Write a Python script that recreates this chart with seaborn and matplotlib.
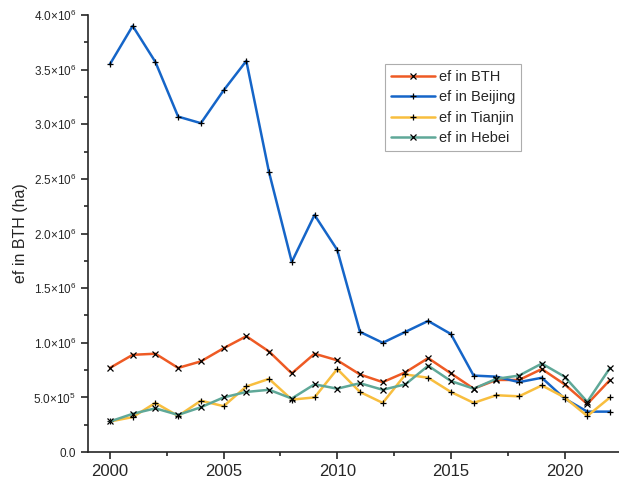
import numpy as np
import pandas as pd
import seaborn as sns
import matplotlib.pyplot as plt
from matplotlib.ticker import MultipleLocator, FuncFormatter

sns.set_style('ticks')
plt.rcParams['font.family'] = ['Liberation Sans', 'DejaVu Sans']
plt.rcParams['mathtext.fontset'] = 'custom'
plt.rcParams['mathtext.rm'] = 'Liberation Sans'
plt.rcParams['mathtext.it'] = 'Liberation Sans'

# Data (values in 10^6 ha)
years = list(range(2000, 2023))
ef_bth = [0.77, 0.89, 0.90, 0.77, 0.83, 0.95, 1.06, 0.92, 0.72, 0.90, 0.84, 0.71,
          0.64, 0.73, 0.86, 0.72, 0.58, 0.66, 0.66, 0.76, 0.62, 0.44, 0.66]
ef_beijing = [3.55, 3.90, 3.57, 3.07, 3.01, 3.31, 3.58, 2.56, 1.74, 2.17, 1.85, 1.10,
              1.00, 1.10, 1.20, 1.08, 0.70, 0.69, 0.64, 0.68, 0.49, 0.37, 0.37]
ef_tianjin = [0.28, 0.32, 0.45, 0.33, 0.47, 0.42, 0.60, 0.67, 0.48, 0.50, 0.76, 0.55,
              0.45, 0.71, 0.68, 0.55, 0.45, 0.52, 0.51, 0.61, 0.50, 0.33, 0.50]
ef_hebei = [0.28, 0.35, 0.40, 0.34, 0.41, 0.50, 0.55, 0.57, 0.49, 0.62, 0.58, 0.63,
            0.57, 0.62, 0.79, 0.65, 0.58, 0.67, 0.70, 0.81, 0.69, 0.46, 0.77]

series = [
    ('ef in BTH', ef_bth, '#EE5A24', 'x'),
    ('ef in Beijing', ef_beijing, '#1565C8', '+'),
    ('ef in Tianjin', ef_tianjin, '#F8BE3E', '+'),
    ('ef in Hebei', ef_hebei, '#5FA898', 'x'),
]

fig = plt.figure(figsize=(6.19, 4.84), dpi=100)
ax = fig.add_axes([0.142, 0.066, 0.860, 0.903])

for name, vals, color, marker in series:
    df = pd.DataFrame({'year': years, 'ef': np.array(vals) * 1e6})
    sns.lineplot(data=df, x='year', y='ef', ax=ax, color=color, linewidth=1.8,
                 marker=marker, markersize=5, markeredgecolor='black',
                 markeredgewidth=0.9, label=name)

ax.set_xlim(1999.03, 2022.45)
ax.set_ylim(0, 4.0e6)
ax.xaxis.set_major_locator(MultipleLocator(5))
ax.xaxis.set_minor_locator(MultipleLocator(2.5))
ax.yaxis.set_major_locator(MultipleLocator(0.5e6))
ax.yaxis.set_minor_locator(MultipleLocator(0.25e6))


def sci_fmt(v, pos):
    if v == 0:
        return '0.0'
    exp = int(np.floor(np.log10(abs(v))))
    mant = v / 10 ** exp
    return r'$%.1f{\times}10^{%d}$' % (mant, exp)


ax.yaxis.set_major_formatter(FuncFormatter(sci_fmt))
ax.tick_params(axis='y', which='major', labelsize=8.5, length=5, width=1.2)
ax.tick_params(axis='x', which='major', labelsize=12, length=5, width=1.2)
ax.tick_params(which='minor', length=3, width=1.2)
sns.despine(ax=ax)
for sp in ['left', 'bottom']:
    ax.spines[sp].set_linewidth(1.2)

ax.set_xlabel('')
ax.set_ylabel('ef in BTH (ha)', fontsize=11.5)

leg = ax.legend(loc='upper left', bbox_to_anchor=(0.545, 0.905), fontsize=10.5,
                frameon=True, fancybox=False, edgecolor='#999999',
                handlelength=3.0, borderpad=0.4, labelspacing=0.45,
                handletextpad=0.3)
leg.get_frame().set_linewidth(0.8)

fig.savefig('out.png', dpi=100)
